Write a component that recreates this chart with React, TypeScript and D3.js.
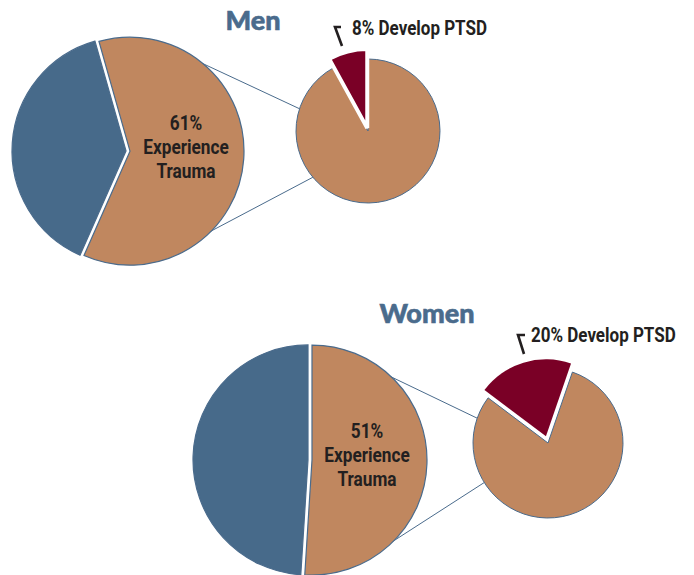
import * as d3 from 'd3';

// values
const groups = ['Men', 'Women'];
const traumaPct = [61, 51];
const ptsdPct = [8, 20];

const BLUE = '#476a8a';
const BROWN = '#c0875f';
const RED = '#7a0026';
const LINE = '#4a6b8c';
const INK = '#231f20';

const deg = (a: number) => (a * Math.PI) / 180;

// layout for each group (pixel positions only)
const layout = [
  {
    big: { cx: 128, cy: 151, r: 114, start: -15.8 },
    small: { cx: 368, cy: 131, r: 72, redPush: 3, redGrow: 7, redStroke: 4 },
    links: [[38.5, 288], [136.2, 230]],
    title: { x: 253, y: 30 },
    label: { x: 186, y: 130 },
    ptsd: { x: 352, y: 35 },
    tick: 'M341,27 L335,27 L342,46',
  },
  {
    big: { cx: 310, cy: 460, r: 115, start: 0 },
    small: { cx: 548, cy: 443, r: 75, redPush: 7, redGrow: 2, redStroke: 0 },
    links: [[42.5, 289.3], [137.3, 238.2]],
    title: { x: 427, y: 323 },
    label: { x: 367, y: 438 },
    ptsd: { x: 531, y: 342 },
    tick: 'M525,335 L518,335 L524,354',
  },
];

const onCircle = (cx: number, cy: number, r: number, a: number) => [
  cx + r * Math.sin(deg(a)),
  cy - r * Math.cos(deg(a)),
];

const push = (a0: number, a1: number, d: number) => {
  const m = (a0 + a1) / 2;
  return [d * Math.sin(m), -d * Math.cos(m)];
};

// no condensed font installed, so squeeze Roboto bold sideways
const NARROW = 'Roboto, "Liberation Sans", sans-serif';

function Group({ i }: { i: number }) {
  const L = layout[i];
  const { big, small } = L;

  const bigPie = d3
    .pie<number>()
    .sort(null)
    .startAngle(deg(big.start))
    .endAngle(deg(big.start) + 2 * Math.PI)([traumaPct[i], 100 - traumaPct[i]]);

  const redSpan = (ptsdPct[i] / 100) * 360;
  const redStart = i === 0 ? -redSpan : 19 - redSpan;
  const smallPie = d3
    .pie<number>()
    .sort(null)
    .startAngle(deg(redStart))
    .endAngle(deg(redStart) + 2 * Math.PI)([ptsdPct[i], 100 - ptsdPct[i]]);

  const bigArc = d3.arc<d3.PieArcDatum<number>>().innerRadius(0).outerRadius(big.r);
  const smallArc = d3.arc<d3.PieArcDatum<number>>().innerRadius(0).outerRadius(small.r);
  const redArc = d3
    .arc<d3.PieArcDatum<number>>()
    .innerRadius(0)
    .outerRadius(small.r + small.redGrow);

  const lines = [`${traumaPct[i]}%`, 'Experience', 'Trauma'];

  return (
    <g>
      {L.links.map(([a, b], k) => {
        const [x1, y1] = onCircle(big.cx, big.cy, big.r, a);
        const [x2, y2] = onCircle(small.cx, small.cy, small.r, b);
        return <line key={k} x1={x1} y1={y1} x2={x2} y2={y2} stroke={LINE} strokeWidth={1} />;
      })}

      <g transform={`translate(${big.cx},${big.cy})`}>
        {bigPie.map((d, k) => {
          const [dx, dy] = push(d.startAngle, d.endAngle, 2);
          return (
            <path
              key={k}
              d={bigArc(d) || ''}
              transform={`translate(${dx},${dy})`}
              fill={k === 0 ? BROWN : BLUE}
              stroke={LINE}
              strokeWidth={1.2}
            />
          );
        })}
      </g>

      <g transform={`translate(${small.cx},${small.cy})`}>
        <path d={smallArc(smallPie[1]) || ''} fill={BROWN} stroke={LINE} strokeWidth={1} />
        {(() => {
          const d = smallPie[0];
          const [dx, dy] = push(d.startAngle, d.endAngle, small.redPush);
          return (
            <path
              d={redArc(d) || ''}
              transform={`translate(${dx},${dy})`}
              fill={RED}
              stroke={small.redStroke ? '#fff' : 'none'}
              strokeWidth={small.redStroke}
            />
          );
        })()}
      </g>

      <text
        x={L.title.x}
        y={L.title.y}
        textAnchor="middle"
        fontFamily="Lato, 'Open Sans', sans-serif"
        fontWeight={900}
        fontSize={27}
        fill={LINE}
        stroke={LINE}
        strokeWidth={0.6}
      >
        {groups[i]}
      </text>

      <g transform={`translate(${L.label.x},${L.label.y}) scale(0.82,1)`}>
        <text textAnchor="middle" fontFamily={NARROW} fontWeight={700} fontSize={21} fill={INK}>
          {lines.map((t, k) => (
            <tspan key={k} x={0} dy={k === 0 ? 0 : 24}>
              {t}
            </tspan>
          ))}
        </text>
      </g>

      <path d={L.tick} fill="none" stroke={INK} strokeWidth={2.6} />
      <g transform={`translate(${L.ptsd.x},${L.ptsd.y}) scale(0.85,1)`}>
        <text fontFamily={NARROW} fontWeight={700} fontSize={20} fill={INK}>
          {`${ptsdPct[i]}% Develop PTSD`}
        </text>
      </g>
    </g>
  );
}

export default function App() {
  return (
    <svg
      width={694}
      height={575}
      style={{ position: 'absolute', left: 0, top: 0, background: '#fff' }}
    >
      {groups.map((g, i) => (
        <Group key={g} i={i} />
      ))}
    </svg>
  );
}
